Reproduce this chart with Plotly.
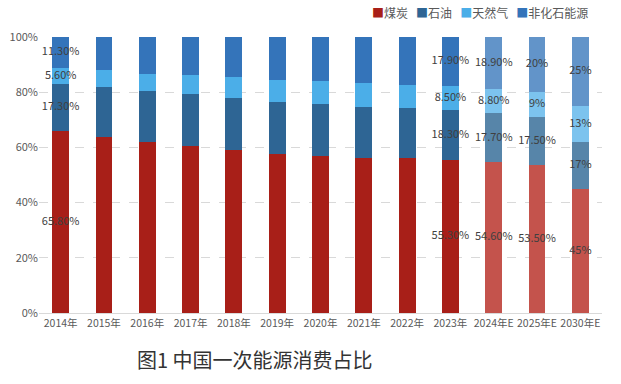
import plotly.graph_objects as go

years = ["2014年", "2015年", "2016年", "2017年", "2018年", "2019年", "2020年",
         "2021年", "2022年", "2023年", "2024年E", "2025年E", "2030年E"]
coal = [65.8, 63.7, 62.0, 60.4, 59.0, 57.7, 56.8, 56.0, 56.2, 55.3, 54.6, 53.5, 45]
oil = [17.3, 18.3, 18.5, 18.8, 18.9, 18.9, 18.9, 18.5, 17.9, 18.3, 17.7, 17.5, 17]
gas = [5.6, 5.9, 6.2, 7.0, 7.6, 8.0, 8.4, 8.9, 8.4, 8.5, 8.8, 9, 13]
nonfossil = [11.3, 12.1, 13.3, 13.8, 14.5, 15.4, 15.9, 16.6, 17.5, 17.9, 18.9, 20, 25]

coal_lbl = ["65.80%", "", "", "", "", "", "", "", "", "55.30%", "54.60%", "53.50%", "45%"]
oil_lbl = ["17.30%", "", "", "", "", "", "", "", "", "18.30%", "17.70%", "17.50%", "17%"]
gas_lbl = ["5.60%", "", "", "", "", "", "", "", "", "8.50%", "8.80%", "9%", "13%"]
nonfossil_lbl = ["11.30%", "", "", "", "", "", "", "", "", "17.90%", "18.90%", "20%", "25%"]

names = ["煤炭", "石油", "天然气", "非化石能源"]
series = [coal, oil, gas, nonfossil]
labels = [coal_lbl, oil_lbl, gas_lbl, nonfossil_lbl]
colors = ["#A81F18", "#2E6594", "#4BAEE8", "#3474BA"]
fcolors = ["#C4534C", "#5785A9", "#7CC3EE", "#6294C9"]
forecast = [False] * 10 + [True] * 3

FONT = "Noto Sans CJK SC, Microsoft YaHei, sans-serif"

fig = go.Figure()
for name, vals, c, fc in zip(names, series, colors, fcolors):
    cols = [fc if f else c for f in forecast]
    fig.add_trace(go.Bar(
        x=years, y=vals, name=name, showlegend=False,
        marker=dict(color=cols, line=dict(width=0)),
        hoverinfo="skip",
    ))

# labels at segment midpoints
base = [0.0] * len(years)
for vals, lbl in zip(series, labels):
    mids = [b + v / 2 for b, v in zip(base, vals)]
    xs = [x for x, t in zip(years, lbl) if t]
    ys = [m for m, t in zip(mids, lbl) if t]
    ts = [t for t in lbl if t]
    fig.add_trace(go.Scatter(x=xs, y=ys, text=ts, mode="text",
                             textfont=dict(size=11, color="#404040", family=FONT),
                             showlegend=False, hoverinfo="skip", cliponaxis=False))
    base = [b + v for b, v in zip(base, vals)]

legend_text = "&nbsp;&nbsp;&nbsp;".join(
    f"<span style='color:{c}'>■</span>{n}" for n, c in zip(names, colors))

fig.update_layout(
    barmode="stack",
    bargap=0.61,
    width=621, height=384,
    margin=dict(l=39, r=19, t=37, b=71, autoexpand=False),
    plot_bgcolor="white", paper_bgcolor="white",
    font=dict(family=FONT, size=11, color="#595959"),
    showlegend=False,
    xaxis=dict(showgrid=False, showline=True, linecolor="#D9D9D9", linewidth=1,
               automargin=False, range=[-0.5, len(years) - 0.5],
               ticks="", tickangle=0, tickfont=dict(size=10.5, color="#595959")),
    yaxis=dict(range=[0, 100], tickvals=[0, 20, 40, 60, 80, 100],
               ticktext=["0%", "20%", "40%", "60%", "80%", "100%"],
               automargin=False,
               showgrid=True, gridcolor="#D9D9D9", griddash="dash", gridwidth=1,
               zeroline=False, showline=False, ticks="",
               tickfont=dict(size=11, color="#595959")),
    annotations=[
        dict(text=legend_text, xref="paper", yref="paper",
             x=0.979, y=1.088, xanchor="right", yanchor="middle", showarrow=False,
             font=dict(size=12, color="#595959", family=FONT)),
        dict(text="图1 中国一次能源消费占比", xref="paper", yref="paper",
             x=0.384, y=-0.17, xanchor="center", yanchor="middle",
             showarrow=False,
             font=dict(size=20, color="#333333", family=FONT))],
)

fig.write_html("out.html", config={"displayModeBar": False},
               post_script="document.body.style.margin='0';")
